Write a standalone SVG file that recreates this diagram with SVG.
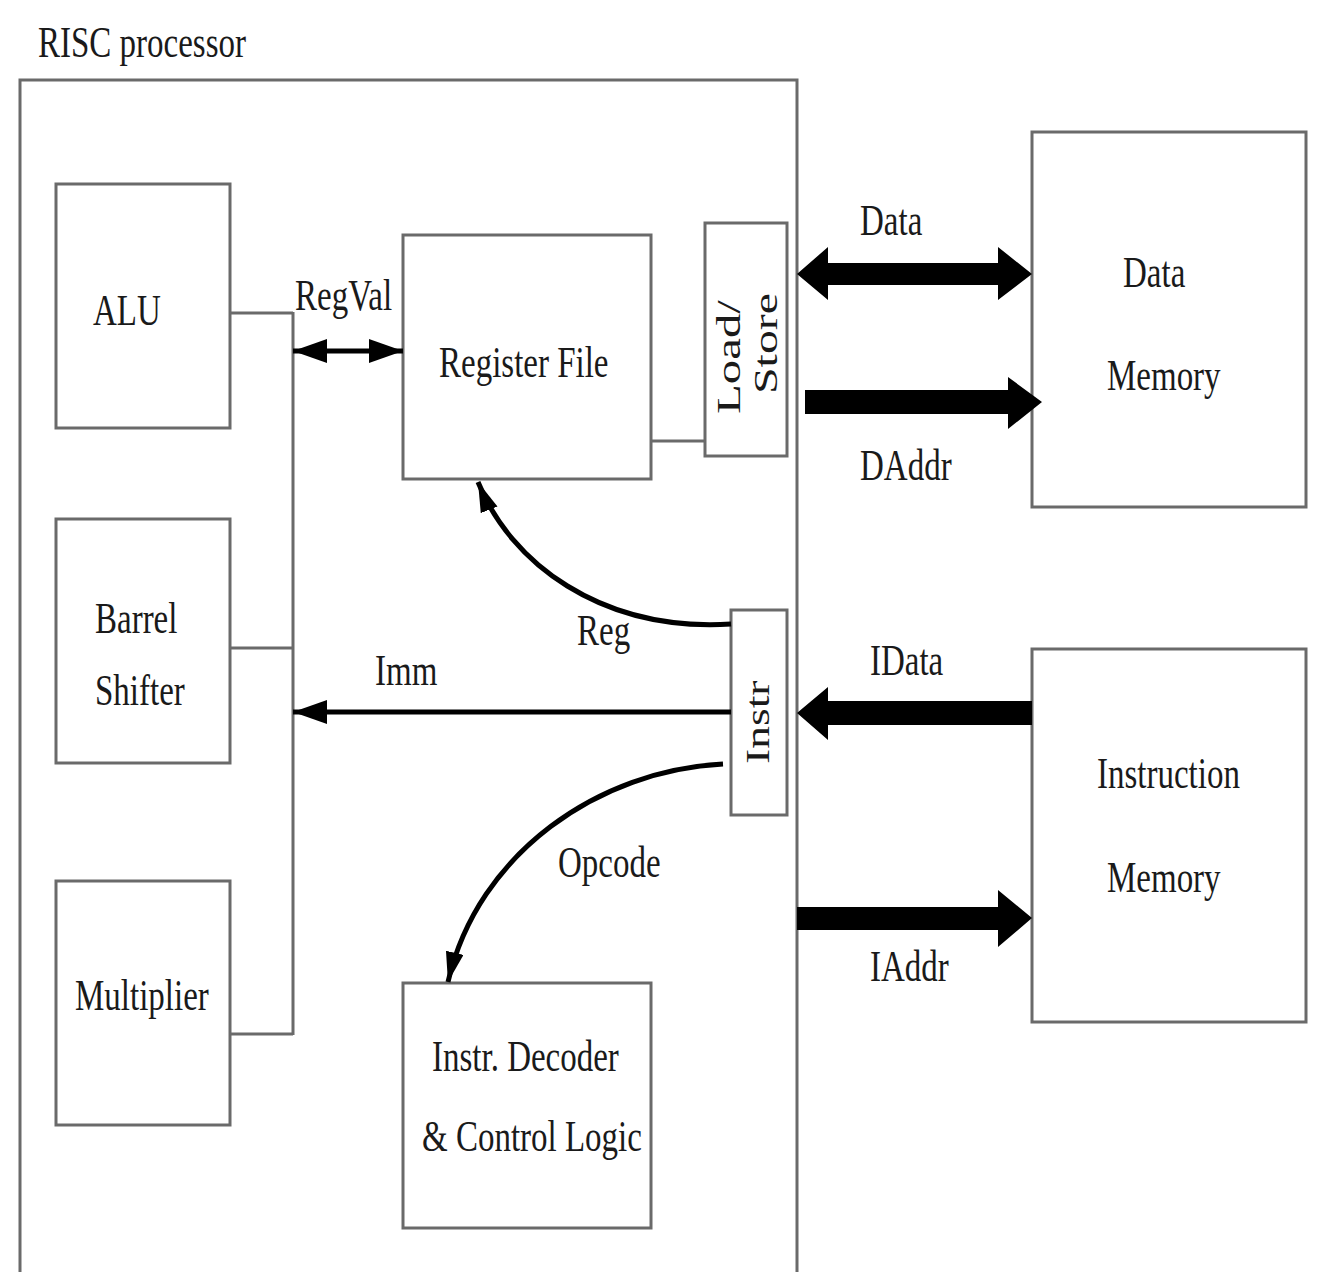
<svg xmlns="http://www.w3.org/2000/svg" width="1325" height="1272" viewBox="0 0 1325 1272">
<style>
.box{fill:#fff;stroke:#6a6a6a;stroke-width:3}
.t{font-family:"Liberation Serif","Times New Roman",serif;font-size:33px;fill:#1a1a1a}
.bus{fill:none;stroke:#6a6a6a;stroke-width:3}
.thin{fill:none;stroke:#000;stroke-width:5}
.fat{fill:#000;stroke:none}
</style>
<defs>
<marker id="ah" markerUnits="userSpaceOnUse" markerWidth="36" markerHeight="26" refX="34" refY="12" orient="auto-start-reverse"><path d="M0,0 L34,12 L0,24 Z" fill="#000"/></marker>
<marker id="ah2" markerUnits="userSpaceOnUse" markerWidth="32" markerHeight="20" refX="30" refY="9" orient="auto"><path d="M0,0 L30,9 L0,18 Z" fill="#000"/></marker>
</defs>
<rect width="1325" height="1272" fill="#fff"/>

<g id="risc">
<path class="bus" d="M20,1272 V80 H797 V1272"/>
<text class="t" transform="translate(38,57) scale(1,1.33)">RISC processor</text>
</g>

<g id="alu">
<rect class="box" x="56" y="184" width="174" height="244"/>
<text class="t" transform="translate(93,325) scale(1,1.33)">ALU</text>
</g>
<g id="barrel">
<rect class="box" x="56" y="519" width="174" height="244"/>
<text class="t" transform="translate(95,633) scale(1,1.33)">Barrel</text>
<text class="t" transform="translate(95,705) scale(1,1.33)">Shifter</text>
</g>
<g id="multiplier">
<rect class="box" x="56" y="881" width="174" height="244"/>
<text class="t" transform="translate(75,1010) scale(1,1.33)">Multiplier</text>
</g>
<g id="regfile">
<rect class="box" x="403" y="235" width="248" height="244"/>
<text class="t" transform="translate(439,377) scale(1,1.33)">Register File</text>
</g>
<g id="loadstore">
<rect class="box" x="705" y="223" width="82" height="233"/>
<text class="t" transform="translate(740,414) scale(1,1.48) rotate(-90)">Load/</text>
<text class="t" transform="translate(777,394) scale(1,1.45) rotate(-90)">Store</text>
</g>
<g id="instr">
<rect class="box" x="731" y="610" width="56" height="205"/>
<text class="t" transform="translate(769,764) scale(1,1.38) rotate(-90)">Instr</text>
</g>
<g id="decoder">
<rect class="box" x="403" y="983" width="248" height="245"/>
<text class="t" transform="translate(432,1071) scale(1,1.33)">Instr. Decoder</text>
<text class="t" transform="translate(422,1151) scale(1,1.33)">&amp; Control Logic</text>
</g>
<g id="datamem">
<rect class="box" x="1032" y="132" width="274" height="375"/>
<text class="t" transform="translate(1123,287) scale(1,1.33)">Data</text>
<text class="t" transform="translate(1107,390) scale(1,1.33)">Memory</text>
</g>
<g id="instrmem">
<rect class="box" x="1032" y="649" width="274" height="373"/>
<text class="t" transform="translate(1097,788) scale(1,1.33)">Instruction</text>
<text class="t" transform="translate(1107,892) scale(1,1.33)">Memory</text>
</g>

<g id="connectors">
<path class="bus" d="M230,313 H293 M230,648 H293 M230,1034 H293 M293,312 V1035"/>
<path class="bus" d="M651,441 H705"/>
<path class="thin" d="M293,351 H403" marker-start="url(#ah)" marker-end="url(#ah)"/>
<path class="thin" d="M731,712 H293" marker-end="url(#ah)"/>
<path class="thin" d="M731,624 C600,632 510,562 478,482" marker-end="url(#ah2)"/>
<path class="thin" d="M723,764 C600,770 478,852 448,982" marker-end="url(#ah2)"/>
<polygon class="fat" points="797,274 828,247 828,263 998,263 998,247 1032,274 998,300 998,285 828,285 828,300"/>
<polygon class="fat" points="805,390 1008,390 1008,377 1042,402 1008,429 1008,414 805,414"/>
<polygon class="fat" points="797,713 828,687 828,701 1032,701 1032,725 828,725 828,740"/>
<polygon class="fat" points="797,907 998,907 998,890 1032,918 998,947 998,930 797,930"/>
<text class="t" transform="translate(295,310) scale(1,1.33)">RegVal</text>
<text class="t" transform="translate(577,645) scale(1,1.33)">Reg</text>
<text class="t" transform="translate(375,685) scale(1,1.33)">Imm</text>
<text class="t" transform="translate(558,877) scale(1,1.33)">Opcode</text>
<text class="t" transform="translate(860,235) scale(1,1.33)">Data</text>
<text class="t" transform="translate(860,480) scale(1,1.33)">DAddr</text>
<text class="t" transform="translate(870,675) scale(1,1.33)">IData</text>
<text class="t" transform="translate(870,981) scale(1,1.33)">IAddr</text>
</g>
</svg>
